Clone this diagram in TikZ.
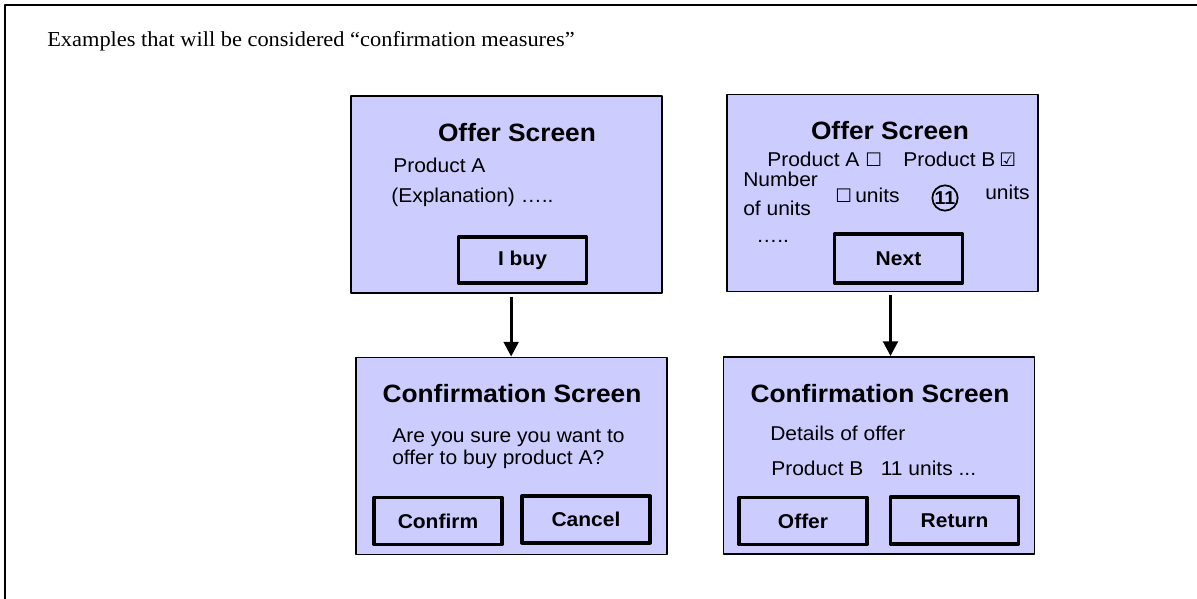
\documentclass[tikz,border=0pt]{standalone}
\usepackage{fontspec}
\setmainfont{Liberation Sans}[FakeStretch=1.05]
\newfontfamily\timesfont{Liberation Serif}[FakeStretch=1.05]
\newfontfamily\boxfont{DejaVu Sans}
\usetikzlibrary{arrows.meta}
\definecolor{screenfill}{RGB}{204,204,255}
\begin{document}
\begin{tikzpicture}[x=0.75pt,y=-0.75pt,line join=round,>={Triangle[length=11pt,width=11pt]}]
	\tikzset{screen/.style={draw,line width=1.2pt,fill=screenfill,minimum width=233pt,minimum height=148pt},
		button/.style={draw,line width=2.7pt,fill=screenfill,minimum width=96pt,minimum height=35pt,font=\fontsize{15}{18}\selectfont\bfseries},
		head/.style={font=\fontsize{18.8}{22}\selectfont\bfseries,inner sep=0pt,anchor=base},
		txt/.style={font=\fontsize{15}{18}\selectfont,inner sep=0pt,anchor=base west},
		tick/.style={font=\boxfont\fontsize{14}{16}\selectfont,inner sep=0pt,anchor=base west},
		flow/.style={->,line width=2.2pt,shorten <=2pt}}
	\useasboundingbox (0,0) rectangle (1197,599);
	\draw[line width=1.5pt] (5,599) -- (5,5) -- (1197,5);
	\node[anchor=base west,inner sep=0pt,font=\timesfont\fontsize{16}{19}\selectfont] (title) at (47,47) {Examples that will be considered “confirmation measures”};
	% offer screens
	\node[screen] (offerA) at (506.5,194.5) {};
	\node[head] (offerAhead) at (517,142) {Offer Screen};
	\node[txt] (prodA) at (393,173) {Product A};
	\node[txt] (explA) at (391,203) {(Explanation) …..};
	\node[button,minimum height=34.5pt] (buy) at (522.5,260) {I buy};
	\node[screen] (offerB) at (882.5,193) {};
	\node[head] (offerBhead) at (890,140) {Offer Screen};
	\node[txt] (prodBa) at (767,167) {Product A};
	\node[tick] (boxA) at (865,167) {☐};
	\node[txt] (prodBb) at (903,167) {Product B};
	\node[tick] (boxB) at (999,167) {☑};
	\node[txt] (numA) at (743,187) {Number};
	\node[txt] (numB) at (743,216) {of units};
	\node[tick] (boxU) at (835,203) {☐};
	\node[txt] (unitsA) at (855,203) {units};
	\node[circle,draw,line width=1.3pt,minimum size=19pt,inner sep=0pt,font=\fontsize{14}{16}\selectfont\bfseries] (eleven) at (945,198) {11};
	\node[txt] (unitsB) at (985,200) {units};
	\node[txt] (dotsB) at (756,243) {…..};
	\node[button,minimum height=36.75pt] (next) at (898.5,258.5) {Next};
	% confirmation screens
	\node[screen] (confA) at (511.5,456) {};
	\node[head] (confAhead) at (512,402) {Confirmation Screen};
	\node[txt] (askA) at (392,442) {Are you sure you want to};
	\node[txt] (askB) at (392,464) {offer to buy product A?};
	\node[button] (confirm) at (438,521) {Confirm};
	\node[button] (cancel) at (586,519.5) {Cancel};
	\node[screen] (confB) at (879,455.5) {};
	\node[head] (confBhead) at (880,402) {Confirmation Screen};
	\node[txt] (detail) at (770,440) {Details of offer};
	\node[txt] (detailB) at (771,475) {Product B\hspace{13pt}11 units ...};
	\node[button] (offer) at (803,521) {Offer};
	\node[button] (return) at (954.5,520.5) {Return};
	% arrows
	\draw[flow] ([xshift=3.5pt]offerA.south) -- ([xshift=3.5pt]offerA.south |- confA.north);
	\draw[flow] ([xshift=6pt]offerB.south) -- ([xshift=6pt]offerB.south |- confB.north);
\end{tikzpicture}
\end{document}
